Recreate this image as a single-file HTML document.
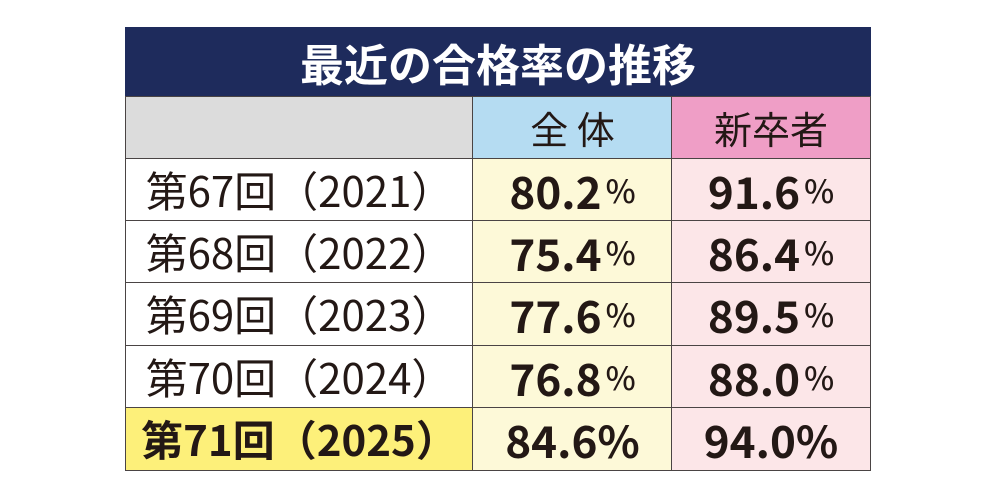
<!DOCTYPE html>
<html><head><meta charset="utf-8"><style>
body{margin:0;width:1000px;height:499px;background:#fff;position:relative;overflow:hidden;font-family:"Liberation Sans","Noto Sans CJK JP",sans-serif;color:#231815}
.c{position:absolute;box-sizing:border-box;display:flex;align-items:center;justify-content:center;border:1.5px solid #4a4444;line-height:1}
.l{font-size:42px;font-family:"Noto Sans CJK JP",sans-serif;font-weight:400}
.v{font-size:44px;font-weight:700;font-family:"Noto Sans CJK JP",sans-serif}
.v small{font-size:32px;font-weight:500;margin-left:4px}
</style></head><body>
<div class="c" style="left:125px;top:27px;width:746px;height:70px;background:#1e2b5c;color:#fff;font-size:44px;font-weight:700;font-family:'Noto Sans CJK JP',sans-serif;border-color:#1e2b5c">最近の合格率の推移</div>
<div class="c" style="left:125px;top:96px;width:349px;height:63px;background:#dcdcdc"></div>
<div class="c l" style="left:472px;top:96px;width:201px;height:63px;background:#b5dcf2;font-size:38px">全 体</div>
<div class="c l" style="left:671px;top:96px;width:200px;height:63px;background:#ef9ec6;font-size:38px">新卒者</div>

<div class="c l" style="left:125px;top:158px;width:349px;height:63px;background:#fff">第67回（2021）</div>
<div class="c v" style="left:472px;top:158px;width:201px;height:63px;background:#fdf9d8">80.2<small>%</small></div>
<div class="c v" style="left:671px;top:158px;width:200px;height:63px;background:#fce6e8">91.6<small>%</small></div>

<div class="c l" style="left:125px;top:220px;width:349px;height:63px;background:#fff">第68回（2022）</div>
<div class="c v" style="left:472px;top:220px;width:201px;height:63px;background:#fdf9d8">75.4<small>%</small></div>
<div class="c v" style="left:671px;top:220px;width:200px;height:63px;background:#fce6e8">86.4<small>%</small></div>

<div class="c l" style="left:125px;top:282px;width:349px;height:64px;background:#fff">第69回（2023）</div>
<div class="c v" style="left:472px;top:282px;width:201px;height:64px;background:#fdf9d8">77.6<small>%</small></div>
<div class="c v" style="left:671px;top:282px;width:200px;height:64px;background:#fce6e8">89.5<small>%</small></div>

<div class="c l" style="left:125px;top:345px;width:349px;height:63px;background:#fff">第70回（2024）</div>
<div class="c v" style="left:472px;top:345px;width:201px;height:63px;background:#fdf9d8">76.8<small>%</small></div>
<div class="c v" style="left:671px;top:345px;width:200px;height:63px;background:#fce6e8">88.0<small>%</small></div>

<div class="c l" style="left:125px;top:407px;width:349px;height:64px;background:#fdf07a;font-weight:700">第71回（2025）</div>
<div class="c v" style="left:472px;top:407px;width:201px;height:64px;background:#fdf9d8">84.6%</div>
<div class="c v" style="left:671px;top:407px;width:200px;height:64px;background:#fce6e8">94.0%</div>
</body></html>
